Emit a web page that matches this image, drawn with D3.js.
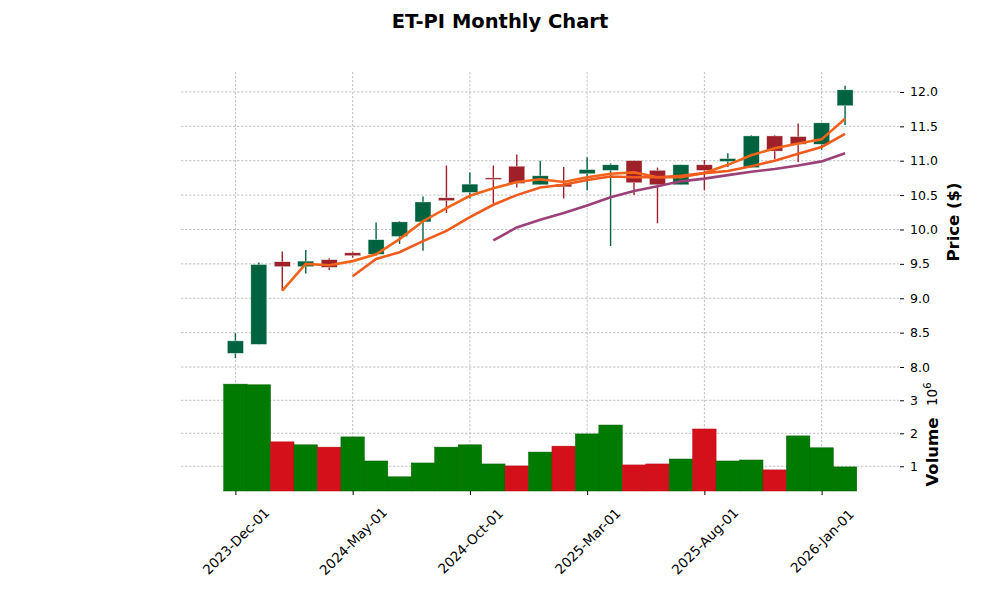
<!DOCTYPE html>
<html>
<head>
<meta charset="utf-8">
<script src="https://cdn.jsdelivr.net/npm/d3@7"></script>
<style>
  body { margin: 0; background: #fff; }
  text { font-family: "DejaVu Sans", sans-serif; }
</style>
</head>
<body>
<div id="vis-container"></div>
<script>
// monthly bars, Dec 2023 .. Feb 2026
let dates = ["2023-Dec-01","2024-Jan-01","2024-Feb-01","2024-Mar-01","2024-Apr-01","2024-May-01",
  "2024-Jun-01","2024-Jul-01","2024-Aug-01","2024-Sep-01","2024-Oct-01","2024-Nov-01","2024-Dec-01",
  "2025-Jan-01","2025-Feb-01","2025-Mar-01","2025-Apr-01","2025-May-01","2025-Jun-01","2025-Jul-01",
  "2025-Aug-01","2025-Sep-01","2025-Oct-01","2025-Nov-01","2025-Dec-01","2026-Jan-01","2026-Feb-01"];

let opens  = [8.20, 8.33, 9.53, 9.46, 9.56, 9.66, 9.64, 9.90, 10.11, 10.46, 10.54, 10.75, 10.92,
  10.65, 10.66, 10.81, 10.86, 11.00, 10.86, 10.65, 10.94, 10.99, 10.90, 11.36, 11.35, 11.24, 11.80];
let highs  = [8.49, 9.52, 9.68, 9.70, 9.58, 9.68, 10.10, 10.12, 10.48, 10.93, 10.83, 10.93, 11.09,
  11.00, 10.91, 11.05, 10.96, 11.00, 10.90, 10.94, 11.01, 11.11, 11.37, 11.37, 11.54, 11.55, 12.09];
let lows   = [8.13, 8.33, 9.11, 9.36, 9.41, 9.59, 9.62, 9.79, 9.69, 10.24, 10.45, 10.38, 10.61,
  10.65, 10.45, 10.57, 9.76, 10.50, 10.09, 10.65, 10.57, 10.91, 10.90, 11.02, 10.98, 11.16, 11.52];
let closes = [8.38, 9.49, 9.46, 9.54, 9.45, 9.62, 9.85, 10.11, 10.40, 10.42, 10.66, 10.73, 10.67,
  10.78, 10.62, 10.87, 10.94, 10.68, 10.65, 10.94, 10.86, 11.03, 11.36, 11.14, 11.24, 11.55, 12.03];

// volume in millions
let volumes = [3.49, 3.47, 1.74, 1.65, 1.58, 1.89, 1.16, 0.68, 1.10, 1.58, 1.65, 1.07, 1.01,
  1.43, 1.61, 1.98, 2.25, 1.04, 1.07, 1.22, 2.13, 1.16, 1.19, 0.89, 1.92, 1.56, 0.98];

// moving average lines (null = not drawn)
let ma3 = [null, null, 9.11, 9.50, 9.48, 9.54, 9.64, 9.86, 10.12, 10.31, 10.49, 10.60, 10.69,
  10.73, 10.69, 10.76, 10.81, 10.83, 10.76, 10.76, 10.82, 10.94, 11.08, 11.18, 11.25, 11.31, 11.61];
let ma6 = [null, null, null, null, null, 9.32, 9.57, 9.67, 9.83, 9.98, 10.18, 10.36, 10.50,
  10.61, 10.65, 10.72, 10.77, 10.76, 10.76, 10.78, 10.82, 10.85, 10.92, 11.00, 11.10, 11.20, 11.39];
let ma12 = [null, null, null, null, null, null, null, null, null, null, null, 9.84, 10.03,
  10.14, 10.24, 10.35, 10.47, 10.56, 10.63, 10.70, 10.74, 10.79, 10.84, 10.88, 10.93, 10.99, 11.11];

let priceTicks = [8.0, 8.5, 9.0, 9.5, 10.0, 10.5, 11.0, 11.5, 12.0];
let volumeTicks = [1, 2, 3];
let dateTicks = [0, 5, 10, 15, 20, 25];

let width = 1000, height = 600;
let plot = {left: 181, right: 899, top: 72, split: 377, bottom: 491};

let upColor = "#006340", downColor = "#a02029";
let volUp = "#017a01", volDown = "#d4101b";

let svg = d3.select("#vis-container")
  .append("svg")
  .attr("width", width)
  .attr("height", height);

let x = d3.scaleLinear()
  .domain([-2.32, 28.3])
  .range([plot.left, plot.right]);

let y = d3.scaleLinear()
  .domain([7.855, 12.29])
  .range([plot.split, plot.top]);

let yVol = d3.scaleLinear()
  .domain([0.25, 3.706])
  .range([plot.bottom, plot.split]);

let step = x(1) - x(0);

// grid
let grid = svg.append("g")
  .attr("stroke", "#b3b3b3")
  .attr("stroke-width", 0.8)
  .attr("stroke-dasharray", "2.4,1.6");

grid.selectAll(".vgrid")
  .data(dateTicks)
  .enter()
  .append("line")
    .attr("x1", d => x(d)).attr("x2", d => x(d))
    .attr("y1", plot.top).attr("y2", plot.bottom);

grid.selectAll(".pgrid")
  .data(priceTicks)
  .enter()
  .append("line")
    .attr("x1", plot.left).attr("x2", plot.right)
    .attr("y1", d => y(d)).attr("y2", d => y(d));

grid.selectAll(".vol-grid")
  .data(volumeTicks)
  .enter()
  .append("line")
    .attr("x1", plot.left).attr("x2", plot.right)
    .attr("y1", d => yVol(d)).attr("y2", d => yVol(d));

// volume bars, colored by close vs previous close
svg.append("g")
  .selectAll("rect")
  .data(volumes)
  .enter()
  .append("rect")
    .attr("x", (d, i) => x(i) - step / 2)
    .attr("y", d => yVol(d))
    .attr("width", step)
    .attr("height", d => plot.bottom - yVol(d))
    .attr("fill", (d, i) => (i == 0 || closes[i] >= closes[i - 1]) ? volUp : volDown)
    .attr("stroke", (d, i) => (i == 0 || closes[i] >= closes[i - 1]) ? "#016201" : "#b80d17")
    .attr("stroke-width", 0.5);

// candles
let candles = svg.append("g")
  .selectAll("g")
  .data(dates)
  .enter()
  .append("g");

candles.append("line")
  .attr("x1", (d, i) => x(i)).attr("x2", (d, i) => x(i))
  .attr("y1", (d, i) => y(highs[i]))
  .attr("y2", (d, i) => y(lows[i]))
  .attr("stroke", (d, i) => closes[i] >= opens[i] ? upColor : downColor)
  .attr("stroke-width", 1.4);

let bodyW = step * 0.68;
candles.append("rect")
  .attr("x", (d, i) => x(i) - bodyW / 2)
  .attr("y", (d, i) => y(Math.max(opens[i], closes[i])))
  .attr("width", bodyW)
  .attr("height", (d, i) => Math.max(1.5, Math.abs(y(opens[i]) - y(closes[i]))))
  .attr("fill", (d, i) => closes[i] >= opens[i] ? upColor : downColor)
  .attr("stroke", "#dde9e3")
  .attr("stroke-width", 0.4);

// moving averages
let line = d3.line()
  .defined(d => d != null)
  .x((d, i) => x(i))
  .y(d => y(d));

[[ma3, "#f26419"], [ma6, "#f05a1c"], [ma12, "#9b4178"]].forEach(function(m) {
  svg.append("path")
    .datum(m[0])
    .attr("fill", "none")
    .attr("stroke", m[1])
    .attr("stroke-width", 2.6)
    .attr("d", line);
});

// right side axes
let priceAxis = svg.append("g")
  .attr("transform", `translate(${plot.right + 1},0)`)
  .call(d3.axisRight(y).tickValues(priceTicks).tickFormat(d3.format(".1f")).tickSize(4).tickPadding(6))
  .attr("font-size", "12.5px")
  .attr("font-family", "DejaVu Sans");
priceAxis.select(".domain").remove();

let volAxis = svg.append("g")
  .attr("transform", `translate(${plot.right + 1},0)`)
  .call(d3.axisRight(yVol).tickValues(volumeTicks).tickFormat(d3.format("d")).tickSize(4).tickPadding(6))
  .attr("font-size", "12.5px")
  .attr("font-family", "DejaVu Sans");
volAxis.select(".domain").remove();

// bottom date axis
let dateAxis = svg.append("g")
  .attr("transform", `translate(0,${plot.bottom})`)
  .call(d3.axisBottom(x).tickValues(dateTicks).tickFormat(i => dates[i]).tickSize(4));
dateAxis.select(".domain").remove();
dateAxis.selectAll("text")
  .attr("font-size", "13.5px")
  .attr("font-family", "DejaVu Sans")
  .attr("text-anchor", "middle")
  .attr("dy", null)
  .attr("y", 0)
  .attr("dominant-baseline", "central")
  .attr("transform", "translate(0,50) rotate(-45)");

// labels
svg.append("text")
  .attr("x", width / 2)
  .attr("y", 28)
  .attr("text-anchor", "middle")
  .attr("font-size", "19.5px")
  .attr("font-weight", "bold")
  .text("ET-PI Monthly Chart");

svg.append("text")
  .attr("transform", "translate(959,222) rotate(-90)")
  .attr("text-anchor", "middle")
  .attr("font-size", "16.5px")
  .attr("font-weight", "bold")
  .text("Price ($)");

svg.append("text")
  .attr("transform", "translate(938,452) rotate(-90)")
  .attr("text-anchor", "middle")
  .attr("font-size", "16.5px")
  .attr("font-weight", "bold")
  .text("Volume");

let offset = svg.append("text")
  .attr("transform", "translate(937,406) rotate(-90)")
  .attr("font-size", "13.5px");
offset.append("tspan").text("10");
offset.append("tspan").attr("dy", -6).attr("font-size", "10px").text("6");
</script>
</body>
</html>
